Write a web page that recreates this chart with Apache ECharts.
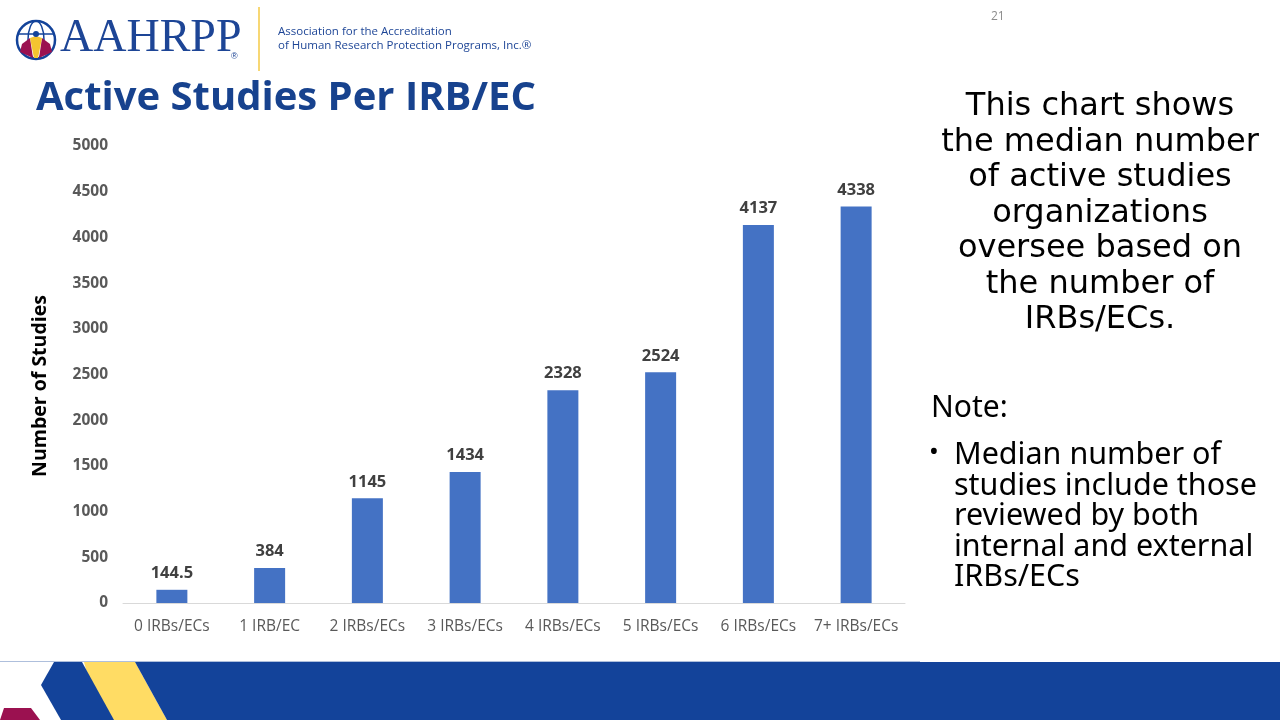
<!DOCTYPE html>
<html>
<head>
<meta charset="utf-8">
<script src="https://cdn.jsdelivr.net/npm/echarts@6/dist/echarts.min.js"></script>
<style>
html,body{margin:0;padding:0;background:#fff;}
#chart{width:1280px;height:720px;}
</style>
</head>
<body>
<div id="chart"></div>
<script>
const categories = ['0 IRBs/ECs','1 IRB/EC','2 IRBs/ECs','3 IRBs/ECs','4 IRBs/ECs','5 IRBs/ECs','6 IRBs/ECs','7+ IRBs/ECs'];
const values = [144.5, 384, 1145, 1434, 2328, 2524, 4137, 4338];
const yTicks = {min: 0, max: 5000, interval: 500};

const blue = '#4472c4';
const navy = '#13439a';
const labelFont = 'Open Sans';

const chart = echarts.init(document.getElementById('chart'));
chart.setOption({
  animation: false,
  backgroundColor: '#fff',
  grid: {left: 123, right: 375, top: 146, bottom: 117, containLabel: false},
  xAxis: {
    type: 'category',
    data: categories,
    axisLine: {lineStyle: {color: '#d9d9d9', width: 1}},
    axisTick: {show: false},
    axisLabel: {color: '#595959', fontSize: 15.5, fontFamily: labelFont, margin: 16, interval: 0}
  },
  yAxis: {
    type: 'value',
    min: yTicks.min, max: yTicks.max, interval: yTicks.interval,
    axisLine: {show: false},
    axisTick: {show: false},
    splitLine: {show: false},
    axisLabel: {color: '#595959', fontSize: 15.5, fontWeight: 'bold', fontFamily: labelFont, margin: 15, formatter: v => String(v)}
  },
  series: [{
    type: 'bar',
    data: values,
    barWidth: 31,
    itemStyle: {color: blue},
    label: {show: true, position: 'top', distance: 8, color: '#404040', fontSize: 16.5, fontWeight: 'bold', fontFamily: labelFont}
  }],
  graphic: [
    // axis name
    {type: 'text', x: 40, y: 386, rotation: Math.PI / 2, style: {text: 'Number of Studies', font: 'bold 19.5px "Open Sans", sans-serif', fill: '#000', textAlign: 'center', textVerticalAlign: 'middle'}},
    // bottom band
    {type: 'rect', shape: {x: 0, y: 661, width: 920, height: 1}, style: {fill: '#aebfdc'}},
    {type: 'polygon', shape: {points: [[4,708],[31,708],[40,720],[0,720]]}, style: {fill: '#9b1150'}},
    {type: 'polygon', shape: {points: [[84,662],[135,662],[167,720],[100,720]]}, style: {fill: '#ffdc64'}},
    {type: 'polygon', shape: {points: [[135,662],[1280,662],[1280,720],[167,720]]}, style: {fill: navy}},
    {type: 'polygon', shape: {points: [[54,662],[82,662],[114,720],[61,720],[41,685]]}, style: {fill: navy}},
    // logo globe
    {type: 'circle', shape: {cx: 36, cy: 40, r: 19}, style: {fill: 'none', stroke: navy, lineWidth: 2.5}},
    {type: 'ellipse', shape: {cx: 36, cy: 40, rx: 8, ry: 19}, style: {fill: 'none', stroke: navy, lineWidth: 1.5}},
    {type: 'line', shape: {x1: 17, y1: 34, x2: 55, y2: 34}, style: {stroke: navy, lineWidth: 1.5}},
    {type: 'polygon', shape: {points: [[22,44],[30,38],[33,58],[20,52]]}, style: {fill: '#9b1150'}},
    {type: 'polygon', shape: {points: [[50,44],[42,38],[39,58],[52,52]]}, style: {fill: '#9b1150'}},
    {type: 'polygon', shape: {points: [[30,38],[36,36],[42,38],[38,58],[34,58]]}, style: {fill: '#f4c430'}},
    {type: 'circle', shape: {cx: 36, cy: 34, r: 3}, style: {fill: navy}},
    {type: 'text', left: 60, top: 16, style: {text: 'AAHRPP', font: '46px "Liberation Serif", "DejaVu Serif", serif', fill: '#1d4596'}},
    {type: 'text', left: 231, top: 52, style: {text: '®', font: '9px "Liberation Sans", sans-serif', fill: '#1d4596'}},
    {type: 'rect', shape: {x: 258, y: 7, width: 2, height: 64}, style: {fill: '#f7d774'}},
    {type: 'text', left: 278, top: 25, style: {text: 'Association for the Accreditation\nof Human Research Protection Programs, Inc.®', font: '11.5px "Open Sans", sans-serif', fill: '#1d4596', lineHeight: 14}},
    // title
    {type: 'text', left: 36, top: 79, style: {text: 'Active Studies Per IRB/EC', font: 'bold 40px "Open Sans", sans-serif', fill: '#17428e'}},
    // page number
    {type: 'text', left: 991, top: 11, style: {text: '21', font: '12px "Open Sans", sans-serif', fill: '#8c8c8c'}},
    // right text
    {type: 'text', x: 1100, y: 89, style: {text: 'This chart shows\nthe median number\nof active studies\norganizations\noversee based on\nthe number of\nIRBs/ECs.', font: '32px "DejaVu Sans", sans-serif', fill: '#000', textAlign: 'center', lineHeight: 35.5}},
    {type: 'text', left: 931, top: 393, style: {text: 'Note:', font: '30px "Noto Sans", sans-serif', fill: '#000'}},
    {type: 'text', left: 929, top: 440, style: {text: '•', font: '26px "Noto Sans", sans-serif', fill: '#000'}},
    {type: 'text', left: 954, top: 440, style: {text: 'Median number of\nstudies include those\nreviewed by both\ninternal and external\nIRBs/ECs', font: '30.5px "Noto Sans", sans-serif', fill: '#000', lineHeight: 30.5}}
  ]
});
</script>
</body>
</html>
